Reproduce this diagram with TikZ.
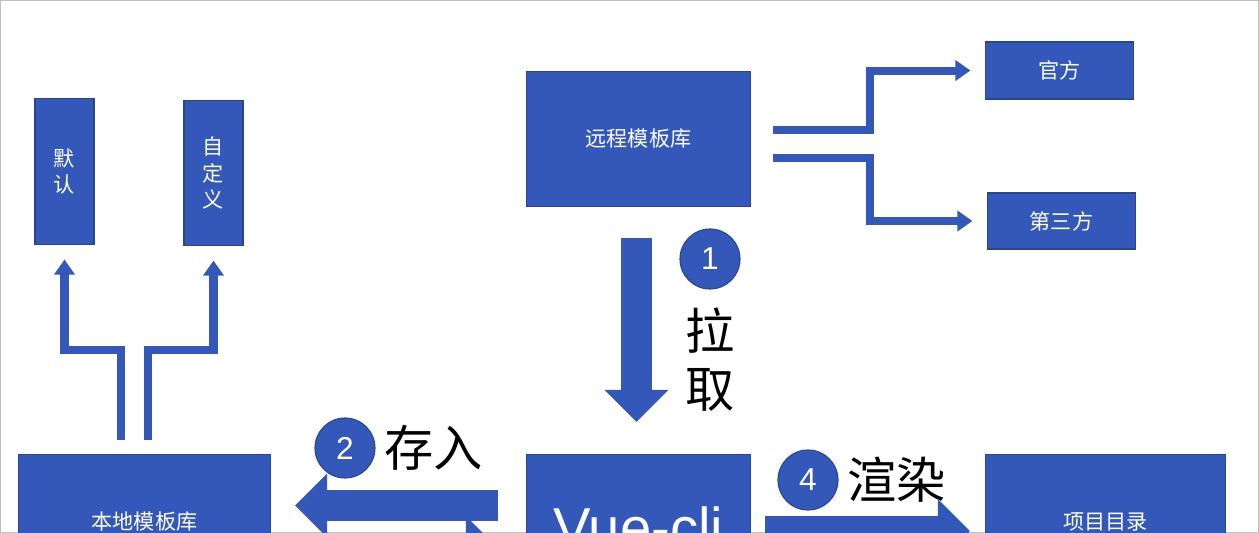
\documentclass[tikz,border=0pt]{standalone}
\usepackage{fontspec}
\setmainfont{Liberation Sans}
\newfontfamily\cjk{Noto Sans CJK SC}
\usetikzlibrary{arrows.meta,positioning}
\definecolor{boxblue}{RGB}{52,88,185}
\definecolor{boxline}{RGB}{40,70,140}
\tikzset{
  box/.style={fill=boxblue, draw=boxline, line width=0.3pt, text=white, font=\cjk\fontsize{6}{7.5}\selectfont, align=center, inner sep=0pt},
  bigarrow/.style={boxblue, line width=0.3cm, -{Triangle[length=0.32cm,width=0.62cm]}},
  thinarrow/.style={boxblue, line width=0.08cm, -{Triangle[length=0.15cm,width=0.2cm]}, shorten >=0.15cm},
  num/.style={circle, fill=boxblue, draw=boxline, line width=0.3pt, minimum size=0.6cm, inner sep=0pt, text=white, font=\fontsize{9}{10}\selectfont},
  label/.style={font=\cjk\fontsize{14}{16}\selectfont, inner sep=0pt}
}
\begin{document}
\begin{tikzpicture}[x=0.01cm, y=-0.01cm]
\useasboundingbox (0,0) rectangle (1259,533);
\draw[gray!50, line width=0.3pt] (0,0) rectangle (1259,533);
\clip (0,0) rectangle (1259,533);
% boxes
\node[box, minimum width=0.59cm, minimum height=1.45cm] (mo) at (64.5,171.5) {默\\认};
\node[box, minimum width=0.59cm, minimum height=1.44cm] (zi) at (213.5,173) {自\\定\\义};
\node[box, minimum width=2.23cm, minimum height=1.34cm] (remote) at (638.5,139) {远程模板库};
\node[box, minimum width=1.47cm, minimum height=0.57cm] (guan) at (1059.5,70.5) {官方};
\node[box, minimum width=1.47cm, minimum height=0.56cm] (third) at (1061.5,221) {第三方};
\node[box, minimum width=2.51cm, minimum height=1.34cm] (local) at (144.5,522) {本地模板库};
\node[box, minimum width=2.23cm, minimum height=1.34cm] (vue) at (638.5,522) {};
\node[text=white, font=\fontsize{16}{20}\selectfont, inner sep=0pt, anchor=north] (vuetext) at (638.5,506) {Vue-cli};
\node[box, minimum width=2.39cm, minimum height=1.34cm] (proj) at (1105.5,522) {项目目录};
% number circles and labels
\node[num] (n1) at (710,259) {1};
\node[label, below=0.18cm of n1] (la) {拉};
\node[label, below=0.13cm of la] (qu) {取};
\node[num] (n2) at (345,448) {2};
\node[label, right=0.08cm of n2] (cun) {存入};
\node[num] (n4) at (808,480) {4};
\node[label, right=0.08cm of n4] (xuan) {渲染};
% pull
\coordinate (pullA) at (636.5,238);
\coordinate (pullB) at (636.5,422);
\draw[bigarrow] (pullA) -- (pullB);
% store / load
\coordinate (storeA) at (498,505.5);
\coordinate (storeB) at (295,505.5);
\draw[bigarrow] (storeA) -- (storeB);
\coordinate (loadA) at (300,548);
\coordinate (loadB) at (498,548);
\draw[bigarrow] (loadA) -- (loadB);
% render
\coordinate (renderA) at (765,531);
\coordinate (renderB) at (970,531);
\draw[bigarrow] (renderA) -- (renderB);
% fork to remote sources
\coordinate (r1) at (773,130);
\coordinate (r2) at (773,158);
\draw[thinarrow] (r1) -- (870,130) |- (guan.west);
\draw[thinarrow] (r2) -- (870,158) |- (third.west);
% fork to local templates
\coordinate (l1) at (121,440);
\coordinate (l2) at (148,440);
\draw[thinarrow] (l1) -- (121,350) -| (mo.south);
\draw[thinarrow] (l2) -- (148,350) -| (zi.south);
\end{tikzpicture}
\end{document}
